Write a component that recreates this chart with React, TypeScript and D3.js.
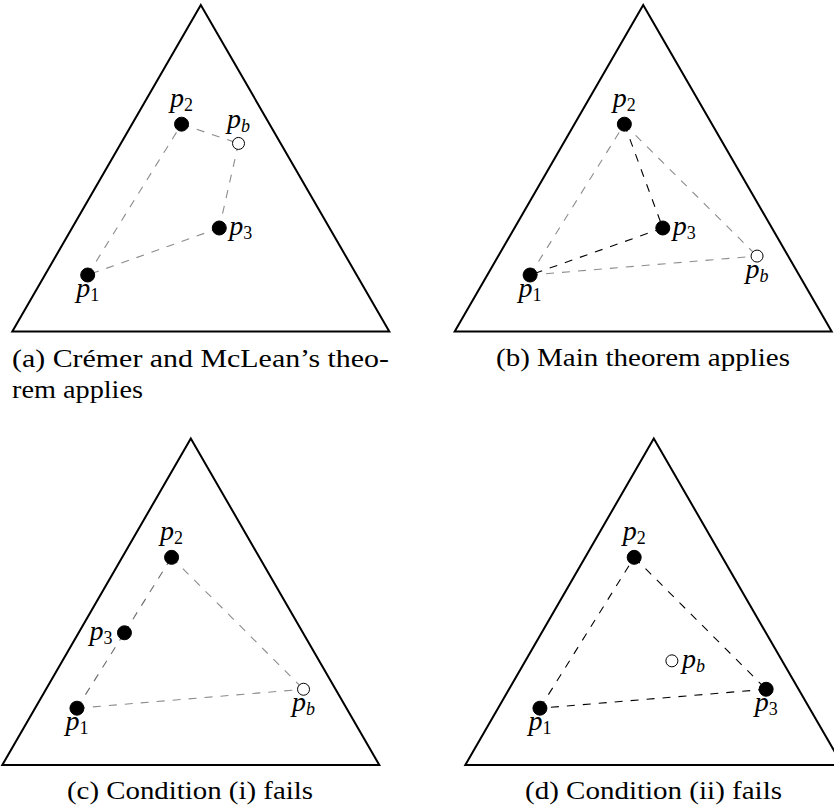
import React from "react";
import * as d3 from "d3";

// Points in normalized simplex coordinates: u = across the base (0..1), v = height fraction (0..1)
const pointNames = ["1", "2", "3", "b"];

const panelAU = [0.2, 0.449, 0.549, 0.6];
const panelAV = [0.173, 0.635, 0.317, 0.576];
const panelBU = [0.2, 0.45, 0.552, 0.802];
const panelBV = [0.173, 0.635, 0.317, 0.231];
const panelCU = [0.198, 0.449, 0.324, 0.799];
const panelCV = [0.174, 0.636, 0.405, 0.232];
const panelDU = [0.198, 0.448, 0.798, 0.548];
const panelDV = [0.174, 0.636, 0.232, 0.319];

// label side per point (p1, p2, p3, pb)
const panelALabels = ["below", "above", "right", "above"];
const panelBLabels = ["below", "above", "right", "below"];
const panelCLabels = ["below", "above", "left", "below"];
const panelDLabels = ["below", "above", "below", "right"];

// edges: [from, to, tone]
const panelAEdges: [number, number, string][] = [[0, 1, "gray"], [1, 3, "gray"], [3, 2, "gray"], [2, 0, "gray"]];
const panelBEdges: [number, number, string][] = [[0, 1, "gray"], [1, 3, "gray"], [0, 3, "gray"], [1, 2, "black"], [2, 0, "black"]];
const panelCEdges: [number, number, string][] = [[1, 3, "gray"], [0, 3, "gray"], [0, 2, "dark"], [2, 1, "dark"]];
const panelDEdges: [number, number, string][] = [[0, 1, "black"], [1, 2, "black"], [2, 0, "black"]];

const captionA = ["(a) Crémer and McLean’s theo-", "rem applies"];
const captionB = ["(b) Main theorem applies"];
const captionC = ["(c) Condition (i) fails"];
const captionD = ["(d) Condition (ii) fails"];

const corners: [number, number][] = [[0, 0], [1, 0], [0.5, 1]];

const W = 834;
const H = 807;
const triW = 377;
const triH = 326.5;

const panels = [
  { left: 12.3, base: 331.5, u: panelAU, v: panelAV, labels: panelALabels, edges: panelAEdges, caption: captionA, capX: [12, 12], capW: [377, 131], capY: [366.5, 398], anchor: "start" },
  { left: 454.7, base: 331.5, u: panelBU, v: panelBV, labels: panelBLabels, edges: panelBEdges, caption: captionB, capX: [643], capW: [294], capY: [366], anchor: "middle" },
  { left: 2.3, base: 765, u: panelCU, v: panelCV, labels: panelCLabels, edges: panelCEdges, caption: captionC, capX: [190], capW: [246], capY: [798.5], anchor: "middle" },
  { left: 465.3, base: 765, u: panelDU, v: panelDV, labels: panelDLabels, edges: panelDEdges, caption: captionD, capX: [653.5], capW: [257], capY: [798.5], anchor: "middle" },
];

const toneColor: Record<string, string> = { gray: "#8c8c8c", dark: "#6a6a6a", black: "#000" };
const serif = "Liberation Serif";

function Label({ x, y, side, name, open }: { x: number; y: number; side: string; name: string; open: boolean }) {
  let lx = x, ly = y, anchor = "middle";
  if (side === "above") ly = y - (open ? 15 : 17);
  if (side === "below") ly = y + 22;
  if (side === "right") { lx = x + 10; ly = y + 7.5; anchor = "start"; }
  if (side === "left") { lx = x - 12; ly = y + 7; anchor = "end"; }
  const isDigit = /\d/.test(name);
  return (
    <text x={lx} y={ly} textAnchor={anchor} style={{ fontFamily: serif, fontSize: 28, fontStyle: "italic" }} fill="#000">
      p
      <tspan dy={4} style={{ fontSize: 18, fontStyle: isDigit ? "normal" : "italic" }}>{name}</tspan>
    </text>
  );
}

function Panel({ p }: { p: (typeof panels)[number] }) {
  const x = d3.scaleLinear().domain([0, 1]).range([p.left, p.left + triW]);
  const y = d3.scaleLinear().domain([0, 1]).range([p.base, p.base - triH]);
  const line = d3.line<[number, number]>().x((d) => x(d[0])).y((d) => y(d[1]));
  const tri = line(corners) + "Z";
  const isOpen = (i: number) => pointNames[i] === "b";

  return (
    <g>
      <path d={tri} fill="none" stroke="#000" strokeWidth={2} strokeLinejoin="miter" />
      {p.edges.map(([a, b, tone], i) => (
        <line
          key={i}
          x1={x(p.u[a])} y1={y(p.v[a])}
          x2={x(p.u[b])} y2={y(p.v[b])}
          stroke={toneColor[tone]}
          strokeWidth={1.1}
          strokeDasharray="8,8"
        />
      ))}
      {pointNames.map((n, i) => (
        <circle
          key={n}
          cx={x(p.u[i])} cy={y(p.v[i])}
          r={isOpen(i) ? 6 : 7}
          fill={isOpen(i) ? "#fff" : "#000"}
          stroke="#000"
          strokeWidth={1}
        />
      ))}
      {pointNames.map((n, i) => (
        <Label key={"l" + n} x={x(p.u[i])} y={y(p.v[i])} side={p.labels[i]} name={n} open={isOpen(i)} />
      ))}
      {p.caption.map((c, i) => (
        <text
          key={"c" + i}
          x={p.capX[i]} y={p.capY[i]}
          textAnchor={p.anchor}
          style={{ fontFamily: serif, fontSize: 25 }}
          fill="#000"
          textLength={p.capW[i]}
          lengthAdjust="spacingAndGlyphs"
        >
          {c}
        </text>
      ))}
    </g>
  );
}

export default function App() {
  return (
    <svg width={W} height={H} style={{ position: "absolute", left: 0, top: 0, background: "#fff" }}>
      <rect width={W} height={H} fill="#fff" />
      {panels.map((p, i) => (
        <Panel key={i} p={p} />
      ))}
    </svg>
  );
}
